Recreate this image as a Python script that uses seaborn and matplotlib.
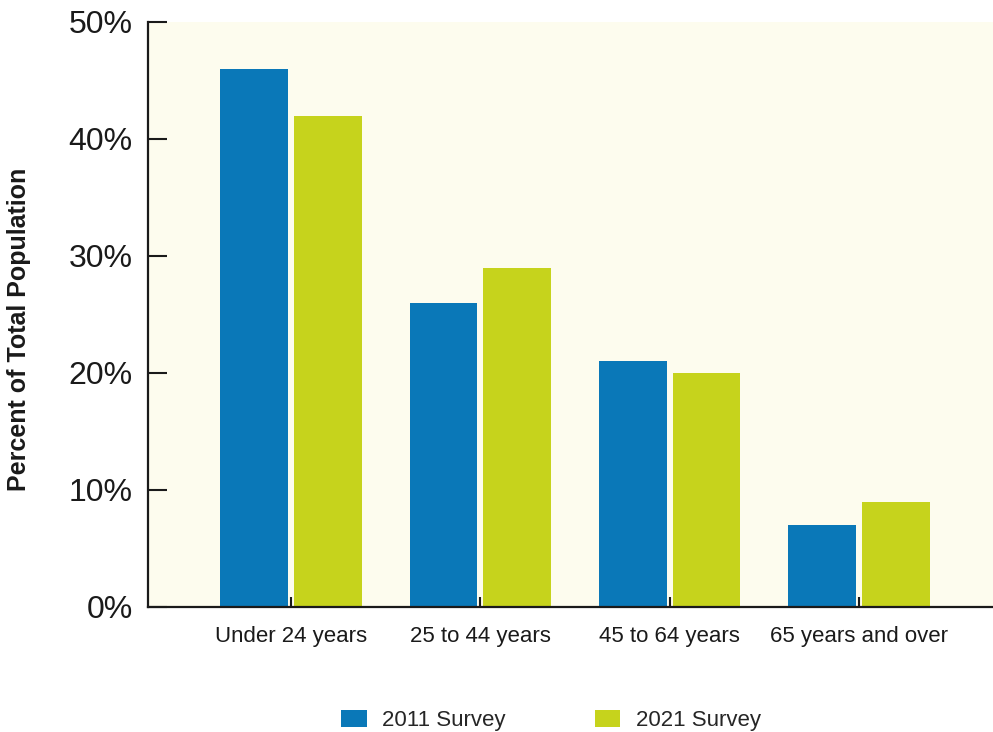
import matplotlib
matplotlib.use("Agg")
import matplotlib.pyplot as plt
from matplotlib.ticker import PercentFormatter, MultipleLocator
import seaborn as sns
import pandas as pd

# Age distribution by survey year (percent of total population)
age_groups = ["Under 24 years", "25 to 44 years", "45 to 64 years", "65 years and over"]
survey_2011 = [46, 26, 21, 7]
survey_2021 = [42, 29, 20, 9]
survey_names = ["2011 Survey", "2021 Survey"]
colors = ["#0a78b8", "#c6d31c"]

df = pd.DataFrame({
    "age": age_groups * 2,
    "pct": survey_2011 + survey_2021,
    "survey": [survey_names[0]] * len(age_groups) + [survey_names[1]] * len(age_groups),
})

sns.set_theme(style="white")
plt.rcParams["font.family"] = ["Liberation Sans", "DejaVu Sans"]

fig = plt.figure(figsize=(9.93, 7.32), dpi=100)
fig.patch.set_facecolor("white")
ax = fig.add_axes([0.149, 0.1708, 0.851, 0.7992])
ax.set_facecolor("#fdfcee")

sns.barplot(data=df, x="age", y="pct", hue="survey", palette=colors,
            width=0.78, gap=0.08, saturation=1, linewidth=0, ax=ax)

ax.set_ylim(0, 50)
ax.set_xlim(-0.757, 3.709)
ax.yaxis.set_major_locator(MultipleLocator(10))
ax.yaxis.set_major_formatter(PercentFormatter(decimals=0))

for side in ["top", "right"]:
    ax.spines[side].set_visible(False)
for side in ["left", "bottom"]:
    ax.spines[side].set_visible(True)
    ax.spines[side].set_color("#1a1a1a")
    ax.spines[side].set_linewidth(1.6)

ax.tick_params(axis="y", direction="in", length=14, width=1.5, colors="#1a1a1a",
               labelsize=23, pad=11, left=True)
ax.tick_params(axis="x", direction="in", length=7, width=1.5, colors="#1a1a1a",
               labelsize=16, pad=14, bottom=True)
for lbl in ax.get_yticklabels() + ax.get_xticklabels():
    lbl.set_color("#1a1a1a")

ax.set_xlabel("")
ax.set_ylabel("Percent of Total Population", fontsize=18, fontweight="bold", color="#1a1a1a")
ax.yaxis.set_label_coords(-0.138, 0.475)

handles, labels = ax.get_legend_handles_labels()
ax.legend_.remove()
fig.legend(handles, labels, loc="center", bbox_to_anchor=(0.555, 0.016), ncol=2,
           frameon=False, fontsize=16, handlelength=1.15, handleheight=0.85,
           handletextpad=0.7, columnspacing=4.0, borderpad=0)

fig.savefig("out.png", dpi=100)
